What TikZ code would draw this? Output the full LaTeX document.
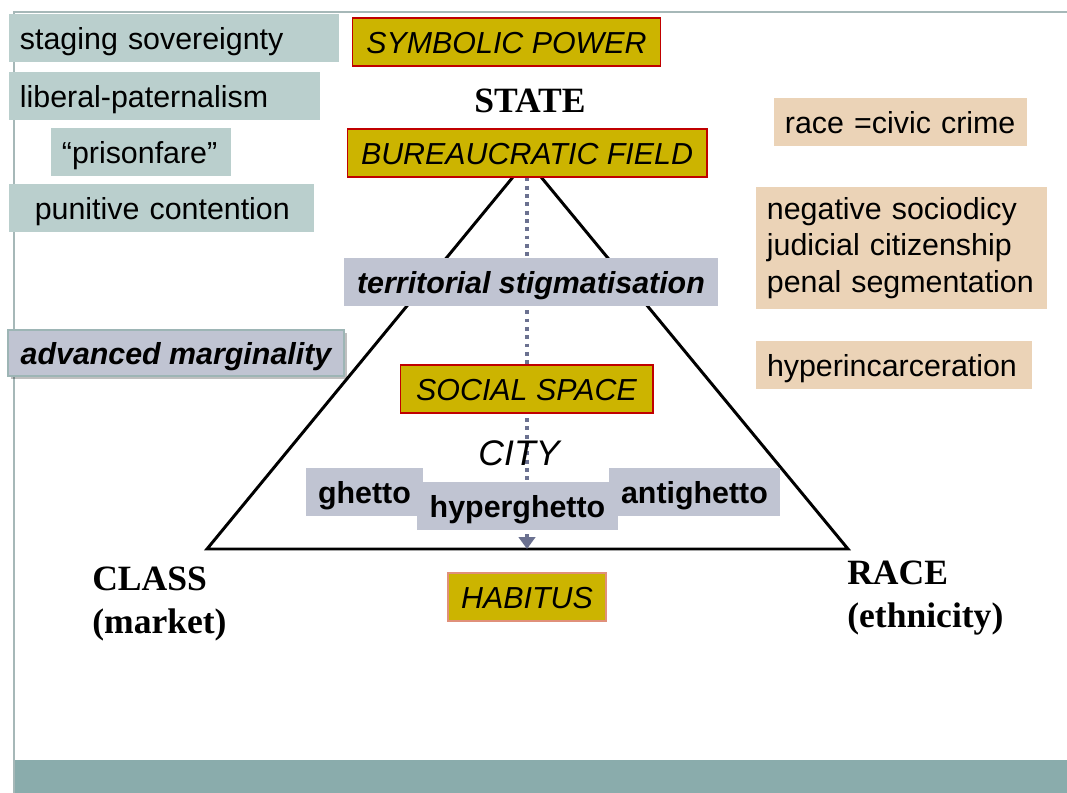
\documentclass[tikz,border=0pt]{standalone}
\usepackage{fontspec}
\setmainfont{Liberation Sans}
\newfontfamily\serifbold{Liberation Serif}
\usetikzlibrary{arrows.meta,shadows}
\definecolor{teal1}{HTML}{BACFCD}
\definecolor{gold1}{HTML}{CCB400}
\definecolor{red1}{HTML}{C00000}
\definecolor{tan1}{HTML}{EBD3B7}
\definecolor{blue1}{HTML}{C0C4D2}
\definecolor{band1}{HTML}{8AACAC}
\definecolor{frame1}{HTML}{A6B8B8}
\definecolor{arrow1}{HTML}{6B7190}
\definecolor{hborder}{HTML}{E0907A}
\definecolor{mborder}{HTML}{9DB5B5}
\begin{document}
\begin{tikzpicture}[x=0.6748pt,y=-0.6748pt,
  plain/.style={inner ysep=0pt, minimum height=32.4pt, font=\fontsize{20.5}{24.5}\selectfont},
  base/.style={plain, text height=19pt, text depth=3pt},
  tealbox/.style={base, fill=teal1, align=left, inner xsep=7.4pt},
  tanbox/.style={base, fill=tan1, align=left, inner xsep=7.4pt},
  goldbox/.style={base, fill=gold1, draw=red1, line width=0.7pt, inner xsep=0pt, font=\fontsize{20.5}{24.5}\selectfont\itshape},
  greybox/.style={base, fill=blue1, inner xsep=0pt, font=\fontsize{20.5}{24.5}\selectfont\bfseries},
  seriflabel/.style={inner sep=0pt, align=left, font=\fontsize{24}{29.5}\selectfont\serifbold\bfseries},
  triline/.style={line width=2pt, line join=miter},
  dotarrow/.style={draw=arrow1, line width=2.6pt, dash pattern=on 2.6pt off 3pt, -{Triangle[length=8pt,width=11pt]}}
]
\useasboundingbox (0,0) rectangle (1067,793);
% frame
\fill[band1] (14,760) rectangle (1067,793);
\draw[frame1, line width=0.8pt] (1067,12) -- (14,12) -- (14,793);

% triangle
\coordinate (apex) at (527,160);
\coordinate (cl) at (207,549);
\coordinate (cr) at (848,549);
\coordinate (base) at (527,549);
\draw[triline] (apex) -- (cl) -- (cr) -- cycle;

% left teal boxes
\node[tealbox, text width=207.9pt] (stag) at (174,38) {staging sovereignty};
\node[tealbox, text width=195.1pt] (lib) at (164.5,96) {liberal-paternalism};
\node[tealbox, text width=106.7pt] (pris) at (141,152) {“prisonfare”};
\node[tealbox, text width=191.0pt] (pun) at (161.5,208) {\hspace*{10pt}punitive contention};

% gold boxes
\node[goldbox, minimum width=207.2pt] (sym) at (506.5,42) {SYMBOLIC POWER};
\node[seriflabel] (state) at (530,101) {STATE};
\node[goldbox, minimum width=242.9pt] (bur) at (527,153) {BUREAUCRATIC FIELD};

% dotted arrow (behind inner boxes)
\draw[dotarrow] (bur.south) -- (base);

\node[greybox, minimum width=252.4pt, font=\fontsize{20.5}{24.5}\selectfont\bfseries\itshape] (terr) at (531,282) {territorial stigmatisation};
\node[greybox, minimum width=226.7pt, minimum height=31pt, draw=mborder, line width=0.8pt,
      font=\fontsize{20.5}{24.5}\selectfont\bfseries\itshape,
      drop shadow={shadow xshift=2pt, shadow yshift=-2pt, fill=black, opacity=0.25}] (adv) at (176,353) {advanced marginality};
\node[goldbox, minimum width=170.7pt] (soc) at (526.5,389) {SOCIAL SPACE};
\node[inner sep=0pt, font=\fontsize{24}{29}\selectfont\itshape] (city) at (519,453) {CITY};

\node[greybox, minimum width=79pt] (ghetto) at (364.5,492) {ghetto};
\node[greybox, minimum width=115.4pt] (anti) at (694.5,492) {antighetto};
\node[greybox, minimum width=135.6pt] (hyper) at (517.5,506) {hyperghetto};

\node[goldbox, minimum width=106.6pt, draw=hborder] (hab) at (527,597) {HABITUS};

\node[seriflabel, anchor=west] (class) at (92,604) {CLASS\\(market)};
\node[seriflabel, anchor=west] (race) at (847,598) {RACE\\(ethnicity)};

% right tan boxes
\node[tanbox, text width=155.9pt] (civic) at (900.5,122) {race =civic crime};
\node[plain, fill=tan1, align=left, inner xsep=7.4pt, text width=181.6pt, minimum height=81.7pt] (neg) at (901.5,248) {negative sociodicy\\judicial citizenship\\penal segmentation};
\node[tanbox, text width=171.4pt] (hinc) at (894,365) {hyperincarceration};
\end{tikzpicture}
\end{document}
